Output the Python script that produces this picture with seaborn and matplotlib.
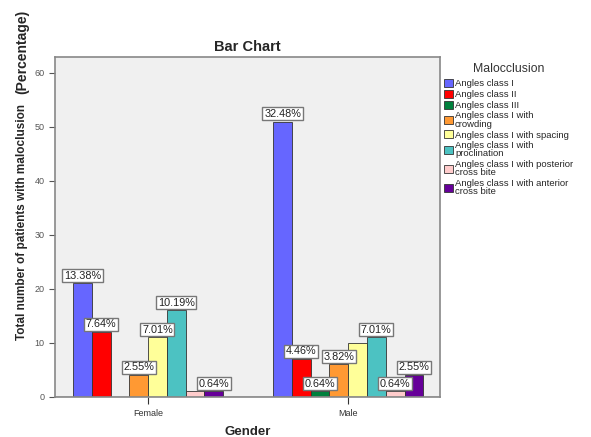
import numpy as np
import pandas as pd
import seaborn as sns
import matplotlib.pyplot as plt
from matplotlib.patches import Patch

# data (patient counts; labels are percent of 157)
genders = ['Female', 'Male']
classes = ['Angles class I', 'Angles class II', 'Angles class III',
           'Angles class I with\ncrowding', 'Angles class I with spacing',
           'Angles class I with\nproclination', 'Angles class I with posterior\ncross bite',
           'Angles class I with anterior\ncross bite']
female_counts = [21, 12, 0, 4, 11, 16, 1, 1]
male_counts = [51, 7, 1, 6, 10, 11, 1, 4]
female_labels = ['13.38%', '7.64%', '', '2.55%', '7.01%', '10.19%', '', '0.64%']
male_labels = ['32.48%', '4.46%', '0.64%', '3.82%', '', '7.01%', '0.64%', '2.55%']
colors = ['#6666FF', '#FF0000', '#00803C', '#FF9933', '#FFFF99', '#4CC2C2', '#FFCCCC', '#660099']

df = pd.DataFrame({
    'Gender': ['Female'] * 8 + ['Male'] * 8,
    'Malocclusion': classes * 2,
    'Count': female_counts + male_counts,
    'Label': female_labels + male_labels,
})

sns.set_style('white')
plt.rcParams['font.family'] = ['Liberation Sans', 'DejaVu Sans']

fig = plt.figure(figsize=(5.91, 4.37), dpi=100)
ax = fig.add_axes([0.093, 0.092, 0.652, 0.778])
ax.set_facecolor('#F0F0F0')

sns.barplot(data=df, x='Gender', y='Count', hue='Malocclusion', hue_order=classes,
            palette=colors, saturation=1, width=0.75, edgecolor='#333333', linewidth=0.6,
            legend=False, ax=ax)

# value labels
for cont, lab_f, lab_m in zip(ax.containers, female_labels, male_labels):
    for bar, lab in zip(cont, [lab_f, lab_m]):
        if not lab:
            continue
        ax.annotate(lab, (bar.get_x() + bar.get_width() / 2, bar.get_height()),
                    xytext=(0, 2), textcoords='offset points', ha='center', va='bottom',
                    fontsize=7.8, color='#222222',
                    bbox=dict(boxstyle='square,pad=0.15', fc='white', ec='#777777', lw=1))

ax.set_xlim(-0.465, 1.46)
ax.set_ylim(0, 63)
ax.set_yticks(np.arange(0, 61, 10))
ax.tick_params(axis='y', labelsize=6.5, labelcolor='#555555', length=4, color='#555555', left=True)
ax.tick_params(axis='x', labelsize=6.5, labelcolor='#333333', length=5, color='#333333', bottom=True)
for s in ax.spines.values():
    s.set_color('#888888')
    s.set_linewidth(1.2)
ax.axhline(0, color='#555555', lw=1)

ax.set_title('Bar Chart', fontsize=10.5, fontweight='bold', pad=4)
ax.set_xlabel('Gender', fontsize=9.5, fontweight='bold', labelpad=6)
ax.set_ylabel('')
fig.text(0.037, 0.492, 'Total number of patients with maloclusion', rotation=90,
         ha='center', va='center', fontsize=8.5, fontweight='bold')
fig.text(0.037, 0.882, '(Percentage)', rotation=90, ha='center', va='center',
         fontsize=10, fontweight='bold')

handles = [Patch(facecolor=c, edgecolor='#333333', lw=0.6, label=l) for c, l in zip(colors, classes)]
leg = fig.legend(handles=handles, title='Malocclusion', loc='upper left',
                 bbox_to_anchor=(0.745, 0.865), frameon=False, fontsize=6.8,
                 title_fontsize=8.8, handlelength=0.95, handleheight=0.95,
                 handletextpad=0.2, labelspacing=0.16, borderaxespad=0)
leg.get_title().set_color('#333333')
for t in leg.get_texts():
    t.set_linespacing(0.9)
leg._legend_box.sep = 3

fig.savefig('out.png', dpi=100)
